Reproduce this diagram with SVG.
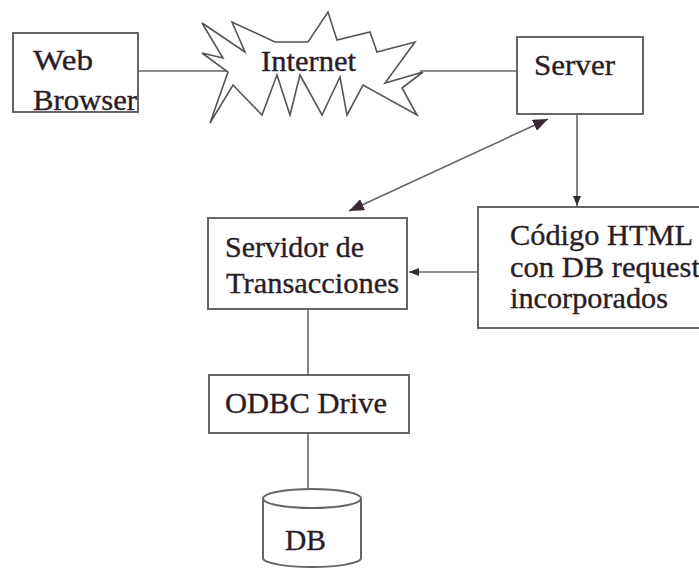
<svg xmlns="http://www.w3.org/2000/svg" width="699" height="569" viewBox="0 0 699 569">
<style>
.box{fill:#fff;stroke:#666;stroke-width:2}
.ln{fill:none;stroke:#666;stroke-width:1.6}
.t{font-family:"Liberation Serif","Times New Roman",serif;font-size:29px;fill:#2b1d26;stroke:#2b1d26;stroke-width:0.35}
.burst{fill:#fff;stroke:#555;stroke-width:1.6;stroke-linejoin:miter}
</style>
<defs>
<marker id="big" markerWidth="15" markerHeight="12" refX="15" refY="6" orient="auto-start-reverse" markerUnits="userSpaceOnUse"><path d="M0,0 L15,6 L0,12 z" fill="#3a2a35"/></marker>
<marker id="sm" markerWidth="10" markerHeight="8" refX="10" refY="4" orient="auto" markerUnits="userSpaceOnUse"><path d="M0,0 L10,4 L0,8 z" fill="#3a2a35"/></marker>
</defs>
<rect width="699" height="569" fill="#fff"/>
<g id="connectors">
<line class="ln" x1="138" y1="71" x2="228" y2="71"/>
<line class="ln" x1="420" y1="71" x2="517" y2="71"/>
<line class="ln" x1="577" y1="114" x2="577" y2="206" marker-end="url(#sm)"/>
<line class="ln" x1="349" y1="211" x2="548" y2="119" marker-start="url(#big)" marker-end="url(#big)"/>
<line class="ln" x1="478" y1="272" x2="409" y2="272" marker-end="url(#sm)"/>
<line class="ln" x1="308" y1="309" x2="308" y2="375"/>
<line class="ln" x1="308" y1="433" x2="308" y2="489"/>
</g>
<g id="web-browser">
<rect class="box" x="13" y="33" width="125" height="79"/>
<text class="t" x="33" y="70" textLength="60" lengthAdjust="spacingAndGlyphs">Web</text>
<text class="t" x="33" y="110" textLength="104" lengthAdjust="spacingAndGlyphs">Browser</text>
</g>
<g id="internet">
<polygon class="burst" points="202,23 245,52 232,22 275,42 308,42 328,12 337,40 370,32 377,52 415,42 385,83 423,72 402,88 417,115 363,85 347,115 340,77 322,115 300,75 290,115 277,75 262,115 233,85 210,123 228,72 202,53 223,58"/>
<text class="t" x="261" y="71" textLength="95" lengthAdjust="spacingAndGlyphs">Internet</text>
</g>
<g id="server">
<rect class="box" x="517" y="37" width="126" height="77"/>
<text class="t" x="534" y="75" textLength="81" lengthAdjust="spacingAndGlyphs">Server</text>
</g>
<g id="servidor">
<rect class="box" x="208" y="218" width="199" height="91"/>
<text class="t" x="225" y="257" textLength="139" lengthAdjust="spacingAndGlyphs">Servidor de</text>
<text class="t" x="226" y="293" textLength="173" lengthAdjust="spacingAndGlyphs">Transacciones</text>
</g>
<g id="codigo">
<rect class="box" x="478" y="207" width="240" height="121"/>
<text class="t" x="510" y="245" textLength="183" lengthAdjust="spacingAndGlyphs">Código HTML</text>
<text class="t" x="510" y="277" textLength="190" lengthAdjust="spacingAndGlyphs">con DB request</text>
<text class="t" x="510" y="308" textLength="158" lengthAdjust="spacingAndGlyphs">incorporados</text>
</g>
<g id="odbc">
<rect class="box" x="209" y="375" width="200" height="58"/>
<text class="t" x="225" y="413" textLength="162" lengthAdjust="spacingAndGlyphs">ODBC Drive</text>
</g>
<g id="db">
<path class="box" d="M263,498 L263,558 A49,9 0 0 0 361,558 L361,498"/>
<ellipse class="box" cx="312" cy="498.5" rx="49" ry="9.5"/>
<text class="t" x="285" y="550" textLength="41" lengthAdjust="spacingAndGlyphs">DB</text>
</g>
</svg>
